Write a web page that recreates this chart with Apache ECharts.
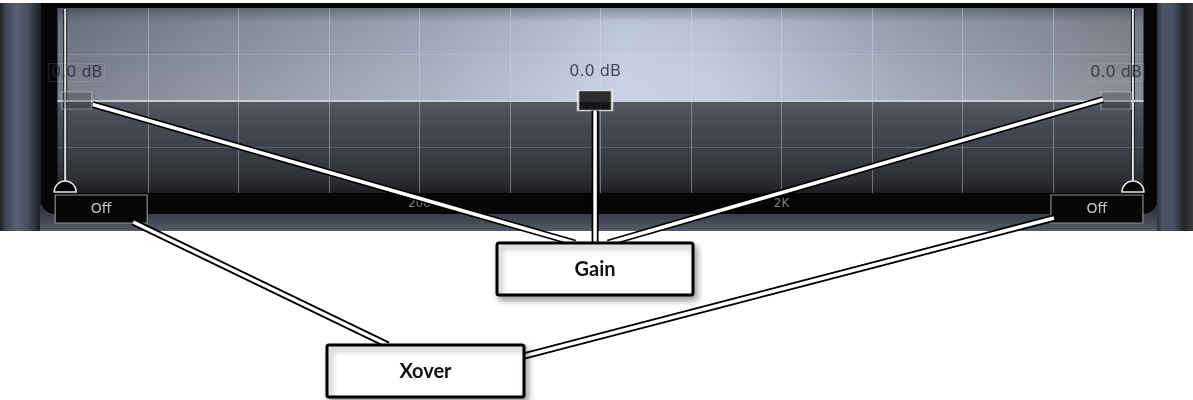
<!DOCTYPE html>
<html>
<head>
<meta charset="utf-8">
<title>EQ band controls</title>
<style>
  html, body { margin: 0; padding: 0; background: #ffffff; }
  #chart { width: 1193px; height: 400px; }
</style>
</head>
<body>
<div id="chart"></div>
<script src="https://cdn.jsdelivr.net/npm/echarts@6/dist/echarts.min.js"></script>
<script>
// gain handles: frequency (Hz) and gain (dB)
const bandFreq = [22.6, 611, 16800];
const bandGain = [0, 0, 0];
// crossover sliders
const xoverFreq = [21, 18700];
const xoverText = ['Off', 'Off'];
// frequency labels on the bottom axis (grid units, 4 per decade from 20 Hz)
const freqTicks = [4, 8];
const freqLabels = ['200', '2K'];
// callout labels
const calloutText = ['Gain', 'Xover'];

const F_MIN = 20, F_MAX = 20000, DB = 12;

const chart = echarts.init(document.getElementById('chart'));

// panel frame + plot background
const bgGraphics = [
  { id: 'frame', type: 'rect', z: -20, shape: { x: 0, y: 3, width: 1193, height: 228 },
    style: { fill: '#2b3039' } },
  { id: 'leftStrip', type: 'rect', z: -19, shape: { x: 0, y: 3, width: 42, height: 228 },
    style: { fill: new echarts.graphic.LinearGradient(0, 0, 1, 0, [
      { offset: 0, color: '#1d2026' }, { offset: 0.12, color: '#3b424f' },
      { offset: 0.4, color: '#566072' }, { offset: 0.65, color: '#48505f' },
      { offset: 0.85, color: '#2c3039' }, { offset: 1, color: '#16181b' }]) } },
  { id: 'rightStrip', type: 'rect', z: -19, shape: { x: 1155, y: 3, width: 38, height: 228 },
    style: { fill: new echarts.graphic.LinearGradient(0, 0, 1, 0, [
      { offset: 0, color: '#22262d' }, { offset: 0.2, color: '#4c5566' },
      { offset: 0.5, color: '#465061' }, { offset: 0.75, color: '#23262b' },
      { offset: 1, color: '#3a3b3d' }]) } },
  { id: 'bottomStrip', type: 'rect', z: -19, shape: { x: 40, y: 205, width: 1117, height: 26 },
    style: { fill: new echarts.graphic.LinearGradient(0, 0, 0, 1, [
      { offset: 0, color: '#2a2e35' }, { offset: 0.6, color: '#434954' },
      { offset: 1, color: '#555c68' }]) } },
  { id: 'body', type: 'rect', z: -18, shape: { x: 41, y: 3, width: 1116, height: 211, r: [0, 0, 14, 14] },
    style: { fill: '#060607' } },
  { id: 'plotTop', type: 'rect', z: -17, shape: { x: 57.5, y: 8, width: 1086, height: 92.5 },
    style: { fill: new echarts.graphic.LinearGradient(0, 0, 1, 0, [
      { offset: 0, color: '#6e7481' }, { offset: 0.15, color: '#878d9a' },
      { offset: 0.35, color: '#a3acbd' }, { offset: 0.52, color: '#c4cee2' },
      { offset: 0.6, color: '#bfc9dc' }, { offset: 0.78, color: '#9ba3b3' },
      { offset: 1, color: '#7c818b' }]) } },
  { id: 'plotTopShade', type: 'rect', z: -16, shape: { x: 57.5, y: 8, width: 1086, height: 92.5 },
    style: { fill: new echarts.graphic.LinearGradient(0, 0, 0, 1, [
      { offset: 0, color: 'rgba(20,24,32,0.35)' }, { offset: 0.15, color: 'rgba(20,24,32,0.05)' },
      { offset: 0.7, color: 'rgba(255,255,255,0.06)' }, { offset: 1, color: 'rgba(255,255,255,0.1)' }]) } },
  { id: 'plotBottom', type: 'rect', z: -17, shape: { x: 57.5, y: 100.5, width: 1086, height: 92.5 },
    style: { fill: new echarts.graphic.LinearGradient(0, 0, 0, 1, [
      { offset: 0, color: '#555963' }, { offset: 0.2, color: '#494d56' },
      { offset: 0.6, color: '#3a3d44' }, { offset: 0.88, color: '#2b2d32' },
      { offset: 1, color: '#1b1c1f' }]) } }
];

const option = {
  animation: false,
  backgroundColor: '#ffffff',
  grid: { left: 57.5, right: 49.5, top: 8, bottom: 207 },
  xAxis: [
    {
      // grid units: quarter decades from 20 Hz
      type: 'value', min: 0, max: 12, interval: 1,
      axisLine: { show: false },
      axisTick: { show: false },
      axisLabel: {
        margin: 5, color: '#7a7e86', fontSize: 12, fontFamily: 'DejaVu Sans',
        formatter: v => { const i = freqTicks.indexOf(v); return i >= 0 ? freqLabels[i] : ''; }
      },
      splitLine: { show: true, showMinLine: false, showMaxLine: false,
        lineStyle: { color: 'rgba(215,225,243,0.4)', width: 1 } }
    },
    {
      type: 'log', logBase: 10, min: F_MIN, max: F_MAX, show: false,
      splitLine: { show: false }
    }
  ],
  yAxis: {
    type: 'value', min: -DB, max: DB, interval: DB / 2,
    axisLine: { show: false }, axisTick: { show: false }, axisLabel: { show: false },
    splitLine: { show: true, showMinLine: false, showMaxLine: false,
      lineStyle: { color: 'rgba(215,225,243,0.2)', width: 1 } }
  },
  graphic: bgGraphics,
  series: [
    {
      name: 'zero',
      type: 'line', xAxisIndex: 1, data: [],
      markLine: {
        silent: true, symbol: 'none', label: { show: false },
        lineStyle: { color: '#c8ccd4', width: 2, type: 'solid' },
        data: [{ yAxis: 0 }]
      }
    },
    {
      name: 'Xover',
      type: 'custom', xAxisIndex: 1, clip: false, z: 4,
      data: xoverFreq.map(f => [f, -DB]),
      renderItem: (params, api) => {
        const top = api.coord([api.value(0), DB]);
        const bot = api.coord([api.value(0), -DB]);
        const cx = top[0];
        const bellY = bot[1] - 1;
        const boxW = 92, boxH = 28;
        const boxX = params.dataIndex === 0 ? cx - 10 : cx + 10 - boxW;
        const boxY = bot[1] + 2;
        const stem = { x1: cx, y1: top[1] + 1, x2: cx, y2: bellY - 11 };
        return {
          type: 'group',
          children: [
            { type: 'line', shape: stem, style: { stroke: '#1a1c20', lineWidth: 4 } },
            { type: 'line', shape: stem, style: { stroke: '#dde0e6', lineWidth: 2 } },
            { type: 'sector', shape: { cx: cx, cy: bellY, r0: 0, r: 11,
                startAngle: Math.PI, endAngle: Math.PI * 2, clockwise: true },
              style: { fill: '#050505', stroke: '#e2e4e8', lineWidth: 1.5 } },
            { type: 'rect', shape: { x: boxX, y: boxY, width: boxW, height: boxH },
              style: { fill: '#070707', stroke: '#8a8e95', lineWidth: 1.2 } },
            { type: 'text', style: { x: boxX + boxW / 2, y: boxY + boxH / 2,
                text: xoverText[params.dataIndex], align: 'center', verticalAlign: 'middle',
                fill: '#c3c7cd', font: '14px "DejaVu Sans"' } }
          ]
        };
      }
    },
    {
      name: 'Gain',
      type: 'scatter', xAxisIndex: 1, symbol: 'rect', z: 5,
      data: bandFreq.map((f, i) => {
        const mid = i === 1;
        return {
          value: [f, bandGain[i]],
          symbolSize: mid ? [34, 20] : [30, 17],
          itemStyle: mid
            ? { color: '#050505', borderColor: '#f2f2f2', borderWidth: 2 }
            : { color: 'rgba(40,44,52,0.35)', borderColor: 'rgba(205,210,220,0.55)', borderWidth: 1 },
          label: mid ? {} : { borderColor: 'rgba(205,210,220,0.2)', borderWidth: 1, padding: [1, 2] }
        };
      }),
      label: {
        show: true, position: 'top', distance: 10,
        formatter: p => p.value[1].toFixed(1) + ' dB',
        color: '#272c36', fontSize: 16, fontFamily: 'DejaVu Sans'
      }
    }
  ]
};

chart.setOption(option);

// callouts: lines from the controls to the label boxes
const gainBox = { x: 497, y: 243, w: 196, h: 52 };
const xoverBox = { x: 327, y: 345, w: 197, h: 52 };
const hp = bandFreq.map((f, i) => chart.convertToPixel({ xAxisIndex: 1, yAxisIndex: 0 }, [f, bandGain[i]]));
const xp = xoverFreq.map(f => chart.convertToPixel({ xAxisIndex: 1, yAxisIndex: 0 }, [f, -DB]));

const segs = [
  [hp[0][0] + 16, hp[0][1] + 4, 575, gainBox.y],
  [hp[1][0], hp[1][1] + 10, hp[1][0], gainBox.y],
  [hp[2][0] - 13, hp[2][1] - 1, 608, gainBox.y],
  [xp[0][0] + 68, xp[0][1] + 29, 388, xoverBox.y],
  [xp[1][0] - 79, xp[1][1] + 25, xoverBox.x + xoverBox.w, 356]
];

const calloutGraphics = [];
segs.forEach((s, i) => {
  const shape = { x1: s[0], y1: s[1], x2: s[2], y2: s[3] };
  calloutGraphics.push({ id: 'segOut' + i, type: 'line', z: 100, shape: shape,
    style: { stroke: '#000000', lineWidth: 7 } });
  calloutGraphics.push({ id: 'segIn' + i, type: 'line', z: 101, shape: shape,
    style: { stroke: '#ffffff', lineWidth: 3.5 } });
});
[gainBox, xoverBox].forEach((b, i) => {
  calloutGraphics.push({
    id: 'box' + i, type: 'rect', z: 110,
    shape: { x: b.x, y: b.y, width: b.w, height: b.h, r: 2 },
    style: { fill: '#ffffff', stroke: '#000000', lineWidth: 3,
      shadowBlur: 6, shadowOffsetX: 3, shadowOffsetY: 4, shadowColor: 'rgba(0,0,0,0.35)' }
  });
  calloutGraphics.push({
    id: 'boxText' + i, type: 'text', z: 111,
    style: { x: b.x + b.w / 2, y: b.y + b.h / 2 + 1, text: calloutText[i],
      align: 'center', verticalAlign: 'middle', fill: '#111111',
      font: 'bold 20px Lato, "Open Sans", sans-serif' }
  });
});

chart.setOption({ graphic: bgGraphics.concat(calloutGraphics) });
</script>
</body>
</html>
